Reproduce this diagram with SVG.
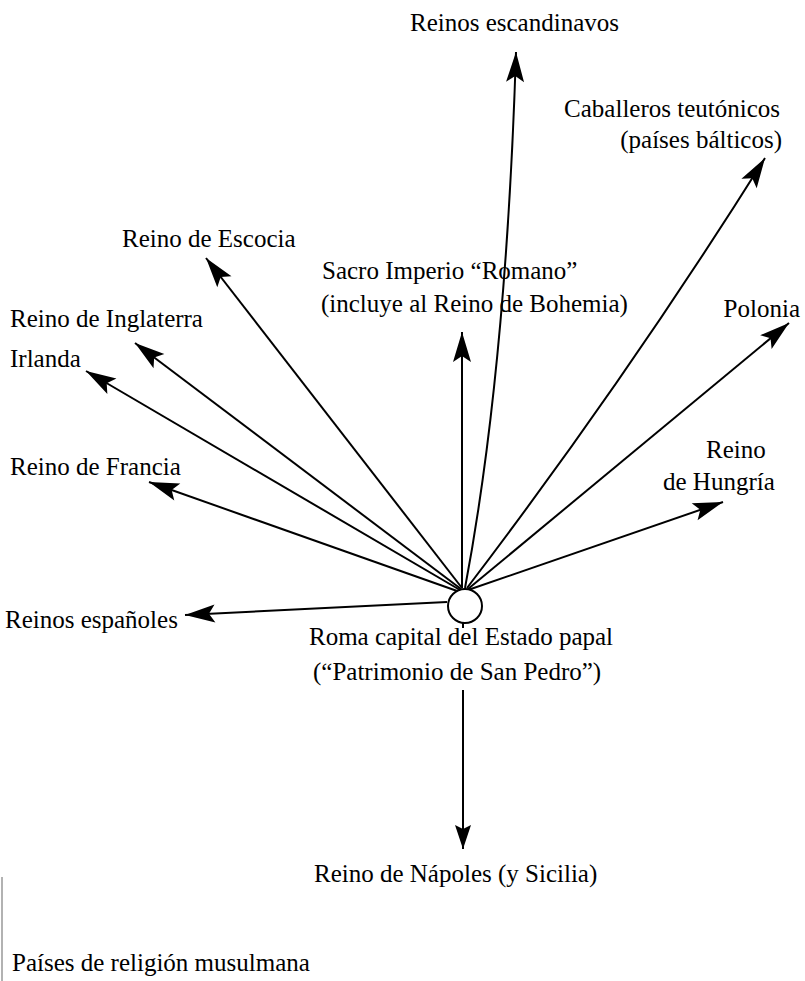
<svg xmlns="http://www.w3.org/2000/svg" width="805" height="981" viewBox="0 0 805 981">
<style>
text { font-family: "Liberation Serif", "Times New Roman", serif; font-size: 25px; fill: #000; }
.c { fill: none; stroke: #000; stroke-width: 2; }
</style>
<defs>
<marker id="ah" markerUnits="userSpaceOnUse" markerWidth="40" markerHeight="24" refX="30" refY="9" orient="auto" overflow="visible">
<path d="M30,9 L0,0 L6,9 L0,18 Z" fill="#000"/>
</marker>
<marker id="ahs" markerUnits="userSpaceOnUse" markerWidth="30" markerHeight="20" refX="24" refY="8" orient="auto" overflow="visible">
<path d="M24,8 L0,0 L4,8 L0,16 Z" fill="#000"/>
</marker>
</defs>
<rect width="805" height="981" fill="#fff"/>

<!-- connectors radiating from Rome -->
<g id="connectors">
<path class="c" d="M465,588 Q506,371 516,52" marker-end="url(#ah)"/>
<path class="c" d="M467,588 Q627,378 765,158" marker-end="url(#ah)"/>
<line class="c" x1="468" y1="589" x2="789" y2="323" marker-end="url(#ah)"/>
<line class="c" x1="468" y1="590" x2="723" y2="502" marker-end="url(#ah)"/>
<line class="c" x1="462" y1="588" x2="462" y2="332" marker-end="url(#ah)"/>
<line class="c" x1="462" y1="588" x2="206" y2="258" marker-end="url(#ah)"/>
<line class="c" x1="461" y1="589" x2="135" y2="343" marker-end="url(#ah)"/>
<line class="c" x1="460" y1="590" x2="86" y2="371" marker-end="url(#ah)"/>
<line class="c" x1="460" y1="592" x2="149" y2="482" marker-end="url(#ah)"/>
<line class="c" x1="447" y1="602" x2="185" y2="615" marker-end="url(#ah)"/>
<line class="c" x1="463" y1="622" x2="463" y2="628"/>
<line class="c" x1="463" y1="690" x2="463" y2="849" marker-end="url(#ahs)"/>
</g>

<g id="roma">
<circle cx="465" cy="606" r="17" fill="#fff" stroke="#000" stroke-width="2"/>
<text x="309" y="645">Roma capital del Estado papal</text>
<text x="313" y="680">(“Patrimonio de San Pedro”)</text>
</g>

<g id="escandinavos"><text x="410" y="31">Reinos escandinavos</text></g>
<g id="teutonicos">
<text x="780" y="117" text-anchor="end">Caballeros teutónicos</text>
<text x="782" y="148" text-anchor="end">(países bálticos)</text>
</g>
<g id="escocia"><text x="122" y="247">Reino de Escocia</text></g>
<g id="sacro-imperio">
<text x="322" y="279">Sacro Imperio “Romano”</text>
<text x="321" y="312">(incluye al Reino de Bohemia)</text>
</g>
<g id="inglaterra"><text x="10" y="327">Reino de Inglaterra</text></g>
<g id="irlanda"><text x="10" y="367">Irlanda</text></g>
<g id="polonia"><text x="800" y="317" text-anchor="end">Polonia</text></g>
<g id="hungria">
<text x="706" y="458">Reino</text>
<text x="663" y="490">de Hungría</text>
</g>
<g id="francia"><text x="10" y="475">Reino de Francia</text></g>
<g id="espanoles"><text x="5" y="628">Reinos españoles</text></g>
<g id="napoles"><text x="314" y="882">Reino de Nápoles (y Sicilia)</text></g>
<g id="musulmanes">
<line x1="2" y1="877" x2="2" y2="981" stroke="#999" stroke-width="1.5"/>
<text x="12" y="971">Países de religión musulmana</text>
</g>
</svg>
